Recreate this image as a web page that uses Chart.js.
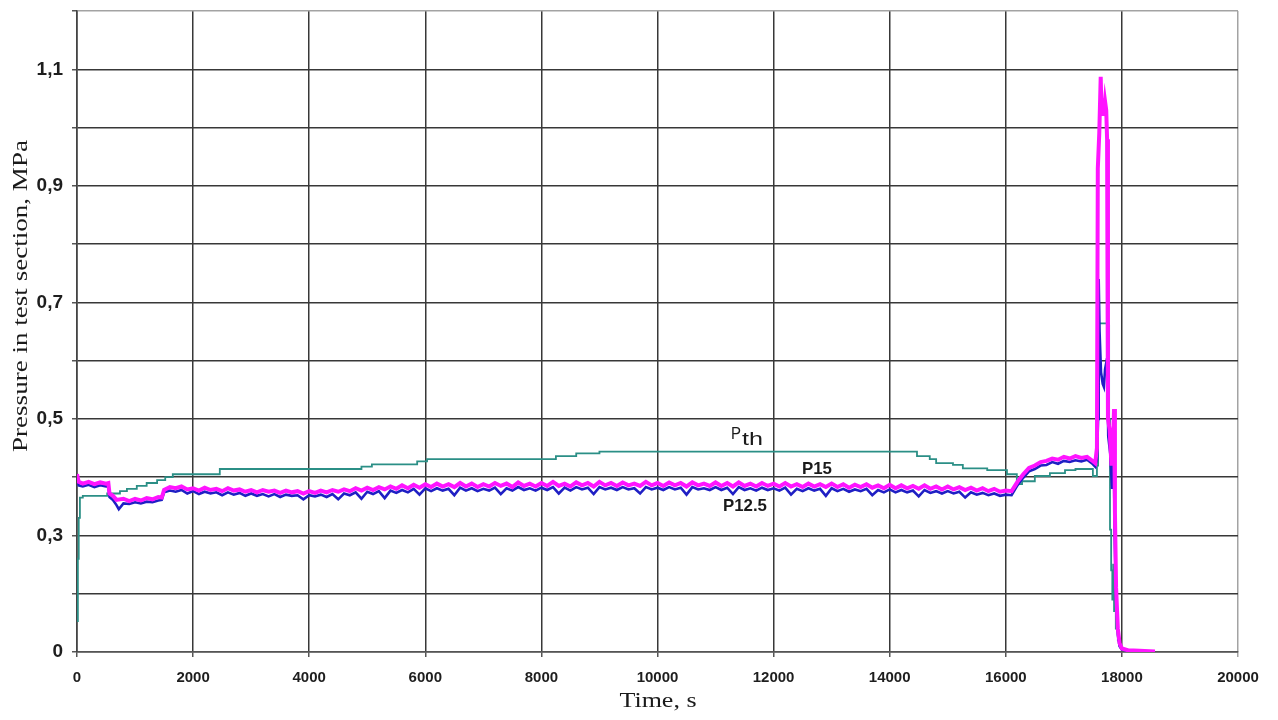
<!DOCTYPE html>
<html>
<head>
<meta charset="utf-8">
<title>Pressure in test section</title>
<script src="https://cdn.jsdelivr.net/npm/chart.js@4/dist/chart.umd.min.js"></script>
<style>
  html, body { margin: 0; padding: 0; background: #fff; overflow: hidden; }
  canvas { display: block; }
</style>
</head>
<body>
<canvas id="pressureChart" width="1278" height="720"></canvas>
<script>
// --- series data (time in s, pressure in MPa on the axis scale) ---

// x axis ticks
const timeTicks = [0, 2000, 4000, 6000, 8000, 10000, 12000, 14000, 16000, 18000, 20000];
// y gridlines run 0.1 .. 1.2, only every other one carries a label
const pressureGrid = [0.1, 0.2, 0.3, 0.4, 0.5, 0.6, 0.7, 0.8, 0.9, 1.0, 1.1, 1.2];
const pressureTickLabels = ['0', '', '0,3', '', '0,5', '', '0,7', '', '0,9', '', '1,1', ''];

// Pth - stepped trace (each value holds until the next time)
const pthTime = [0, 15, 30, 50, 100, 520, 740, 860, 1030, 1200,
  1380, 1520, 1650, 2460, 4900, 5080, 5860, 6030, 8250, 8600,
  9000, 14470, 14690, 14800, 15090, 15260, 15680, 16020, 16190, 16280,
  16500, 16760, 17020, 17200, 17500, 17570, 17590, 17780, 17795, 17815,
  17835, 17850, 17865, 17880, 17895, 17930, 17970, 18000, 18100, 18300];
const pthValue = [0.153, 0.26, 0.33, 0.365, 0.368, 0.372, 0.376, 0.380, 0.385, 0.390,
  0.395, 0.400, 0.405, 0.414, 0.418, 0.422, 0.427, 0.431, 0.436, 0.441,
  0.444, 0.436, 0.431, 0.424, 0.421, 0.415, 0.412, 0.405, 0.388, 0.393,
  0.402, 0.407, 0.412, 0.414, 0.402, 0.420, 0.664, 0.500, 0.310, 0.240,
  0.190, 0.250, 0.170, 0.220, 0.140, 0.120, 0.108, 0.104, 0.102, 0.101];

// P15 - start-up segment
const p15HeadTime = [0, 30, 100, 200, 300, 400, 500, 540, 560, 620,
  680, 800, 900, 1000, 1100, 1200, 1300, 1400, 1460];
const p15HeadValue = [0.405, 0.392, 0.389, 0.392, 0.388, 0.391, 0.389, 0.390, 0.372, 0.368,
  0.361, 0.363, 0.359, 0.363, 0.360, 0.364, 0.362, 0.366, 0.365];
// P15 - steady part, one reading every 100 s from 1500 s to 16000 s
const p15Body = [0.378, 0.383, 0.381, 0.384, 0.379, 0.381,
  0.377, 0.382, 0.378, 0.380, 0.376, 0.381, 0.377, 0.379, 0.375, 0.378,
  0.374, 0.378, 0.375, 0.377, 0.373, 0.377, 0.374, 0.376, 0.372, 0.376,
  0.373, 0.377, 0.374, 0.378, 0.375, 0.379, 0.376, 0.381, 0.377, 0.382,
  0.378, 0.383, 0.379, 0.384, 0.380, 0.386, 0.381, 0.387, 0.382, 0.388,
  0.383, 0.389, 0.384, 0.388, 0.383, 0.390, 0.384, 0.389, 0.383, 0.388,
  0.384, 0.390, 0.385, 0.389, 0.383, 0.391, 0.385, 0.389, 0.384, 0.390,
  0.385, 0.392, 0.385, 0.389, 0.384, 0.391, 0.386, 0.390, 0.384, 0.392,
  0.386, 0.390, 0.385, 0.391, 0.386, 0.389, 0.385, 0.392, 0.386, 0.390,
  0.385, 0.391, 0.386, 0.390, 0.384, 0.391, 0.386, 0.389, 0.385, 0.391,
  0.385, 0.390, 0.384, 0.391, 0.385, 0.389, 0.384, 0.390, 0.385, 0.389,
  0.384, 0.390, 0.384, 0.388, 0.383, 0.389, 0.384, 0.388, 0.383, 0.389,
  0.383, 0.388, 0.382, 0.387, 0.383, 0.388, 0.382, 0.386, 0.381, 0.387,
  0.381, 0.386, 0.381, 0.385, 0.380, 0.386, 0.380, 0.384, 0.379, 0.384,
  0.379, 0.383, 0.378, 0.382, 0.377, 0.381, 0.376, 0.380, 0.375, 0.377];
// P15 - heating, pressure peak and blow-down
const p15TailTime = [16100, 16200, 16300, 16400, 16500, 16600, 16700, 16800, 16900, 17000,
  17100, 17200, 17300, 17400, 17480, 17540, 17570, 17585, 17610, 17635,
  17650, 17670, 17690, 17710, 17730, 17745, 17760, 17790, 17820, 17850,
  17865, 17880, 17900, 17930, 17960, 18000, 18100, 18300, 18570];
const p15TailValue = [0.376, 0.392, 0.405, 0.416, 0.420, 0.426, 0.428, 0.432, 0.430, 0.435,
  0.432, 0.436, 0.433, 0.435, 0.429, 0.424, 0.450, 0.930, 0.990, 1.087,
  1.020, 1.050, 1.020, 1.045, 1.030, 0.980, 0.500, 0.480, 0.420, 0.470,
  0.517, 0.340, 0.210, 0.140, 0.115, 0.106, 0.103, 0.102, 0.101];

// P12.5
const p125HeadTime = [0, 30, 100, 200, 300, 400, 500, 540, 560, 620,
  680, 720, 800, 900, 1000, 1100, 1200, 1300, 1400, 1460];
const p125HeadValue = [0.398, 0.386, 0.384, 0.387, 0.383, 0.386, 0.384, 0.385, 0.366, 0.361,
  0.352, 0.345, 0.355, 0.354, 0.357, 0.355, 0.358, 0.357, 0.360, 0.361];
const p125Body = [0.374, 0.377, 0.375, 0.378, 0.372, 0.376,
  0.371, 0.375, 0.372, 0.374, 0.369, 0.374, 0.370, 0.373, 0.368, 0.372,
  0.368, 0.371, 0.367, 0.371, 0.366, 0.370, 0.368, 0.369, 0.362, 0.369,
  0.367, 0.370, 0.366, 0.371, 0.362, 0.372, 0.369, 0.374, 0.363, 0.375,
  0.371, 0.376, 0.364, 0.377, 0.373, 0.378, 0.374, 0.380, 0.370, 0.381,
  0.376, 0.381, 0.377, 0.380, 0.369, 0.382, 0.377, 0.381, 0.376, 0.380,
  0.377, 0.382, 0.371, 0.381, 0.377, 0.383, 0.378, 0.381, 0.377, 0.382,
  0.378, 0.383, 0.372, 0.382, 0.377, 0.383, 0.379, 0.382, 0.371, 0.383,
  0.379, 0.382, 0.378, 0.383, 0.379, 0.381, 0.372, 0.383, 0.379, 0.382,
  0.378, 0.383, 0.379, 0.382, 0.370, 0.383, 0.379, 0.381, 0.378, 0.383,
  0.378, 0.382, 0.371, 0.383, 0.378, 0.381, 0.377, 0.382, 0.378, 0.381,
  0.377, 0.382, 0.370, 0.380, 0.376, 0.381, 0.377, 0.380, 0.368, 0.381,
  0.376, 0.380, 0.375, 0.379, 0.376, 0.380, 0.369, 0.378, 0.374, 0.379,
  0.374, 0.378, 0.374, 0.377, 0.367, 0.378, 0.373, 0.376, 0.372, 0.376,
  0.372, 0.375, 0.365, 0.374, 0.370, 0.373, 0.369, 0.372, 0.368, 0.370];
const p125TailTime = [16100, 16200, 16300, 16400, 16500, 16600, 16700, 16800, 16900, 17000,
  17100, 17200, 17300, 17400, 17480, 17540, 17570, 17590, 17600,
  17615, 17640, 17670, 17690, 17710, 17730, 17750, 17765, 17800, 17830,
  17860, 17875, 17900, 17930, 17960, 18000, 18100, 18300, 18570];
const p125TailValue = [0.369, 0.386, 0.399, 0.410, 0.414, 0.420, 0.421, 0.426, 0.423, 0.428,
  0.426, 0.429, 0.427, 0.430, 0.424, 0.418, 0.430, 0.500, 0.740,
  0.650, 0.580, 0.560, 0.555, 0.585, 0.596, 0.590, 0.470, 0.440, 0.380,
  0.450, 0.300, 0.190, 0.130, 0.110, 0.104, 0.102, 0.101, 0.100];

const BODY_START = 1500;
const BODY_STEP = 100;

// in-plot series names, anchored in data coordinates
const seriesLabels = [
  { text: 'P', t: 11266, v: 0.4652, font: '16px "Liberation Sans", Arial', width: 10 },
  { text: 'th', t: 11456, v: 0.4549, font: '19px "Liberation Sans", Arial', width: 21 },
  { text: 'P15', t: 12489, v: 0.4051, font: 'bold 17px "Liberation Sans", Arial', width: 30 },
  { text: 'P12.5', t: 11128, v: 0.3417, font: 'bold 17px "Liberation Sans", Arial', width: 44 }
];

// --- helpers ---
function toPoints(times, values) {
  return times.map((t, i) => ({ x: t, y: values[i] }));
}

function bodyPoints(values) {
  return values.map((v, i) => ({ x: BODY_START + i * BODY_STEP, y: v }));
}

// text squeezed/stretched to a given run length
function drawFitted(ctx, text, x, y, font, width, align) {
  ctx.save();
  ctx.font = font;
  const w = ctx.measureText(text).width;
  ctx.translate(x, y);
  ctx.scale(width / w, 1);
  ctx.fillText(text, align === 'center' ? -w / 2 : 0, 0);
  ctx.restore();
}

const GRID_DARK = '#383838';
const GRID_EDGE = '#a3a3a3';

const labelsPlugin = {
  id: 'pressureLabels',
  afterDraw(chart) {
    const { ctx, scales: { x, y } } = chart;
    ctx.save();
    ctx.fillStyle = '#1a1a1a';
    ctx.textBaseline = 'alphabetic';

    seriesLabels.forEach(l => {
      drawFitted(ctx, l.text, x.getPixelForValue(l.t), y.getPixelForValue(l.v), l.font, l.width, 'left');
    });

    // axis titles
    const serif = '22px "Liberation Serif", "Times New Roman", serif';
    drawFitted(ctx, 'Time, s', 658, 707, serif, 77, 'center');

    ctx.save();
    ctx.translate(27, 296);
    ctx.rotate(-Math.PI / 2);
    drawFitted(ctx, 'Pressure in test section, MPa', 0, 0, serif, 312, 'center');
    ctx.restore();

    ctx.restore();
  }
};

const ctx = document.getElementById('pressureChart').getContext('2d');

const pressureChart = new Chart(ctx, {
  type: 'line',
  data: {
    datasets: [
      {
        label: 'P15',
        data: [...toPoints(p15HeadTime, p15HeadValue), ...bodyPoints(p15Body), ...toPoints(p15TailTime, p15TailValue)],
        borderColor: '#ff14ff',
        borderWidth: 4,
        order: 1
      },
      {
        label: 'P12.5',
        data: [...toPoints(p125HeadTime, p125HeadValue), ...bodyPoints(p125Body), ...toPoints(p125TailTime, p125TailValue)],
        borderColor: '#1f1fc4',
        borderWidth: 2.6,
        order: 2
      },
      {
        label: 'Pth',
        data: toPoints(pthTime, pthValue),
        borderColor: '#2b8f86',
        borderWidth: 1.8,
        stepped: 'before',
        order: 3
      }
    ]
  },
  options: {
    responsive: false,
    animation: false,
    events: [],
    elements: {
      point: { radius: 0 },
      line: { tension: 0, borderJoinStyle: 'miter', borderCapStyle: 'butt' }
    },
    layout: { padding: { top: 11, right: 40, left: 0, bottom: 0 } },
    plugins: {
      legend: { display: false },
      tooltip: { enabled: false },
      title: { display: false }
    },
    scales: {
      x: {
        type: 'linear',
        min: 0,
        max: 20000,
        afterBuildTicks: scale => { scale.ticks = timeTicks.map(v => ({ value: v })); },
        afterFit: scale => {
          scale.height = 68;
          scale.paddingLeft = 0;
          scale.paddingRight = 0;
        },
        ticks: {
          color: '#1e1e1e',
          padding: 12,
          maxRotation: 0,
          autoSkip: false,
          font: { family: '"Liberation Sans", Arial, sans-serif', size: 15, weight: 'bold' },
          callback: v => String(v)
        },
        grid: {
          color: c => (c.tick && c.tick.value === 20000 ? GRID_EDGE : GRID_DARK),
          tickColor: c => (c.tick && c.tick.value === 20000 ? GRID_EDGE : '#555'),
          lineWidth: 1.5,
          tickLength: 5
        },
        border: { color: '#555', width: 1.6 }
      },
      y: {
        type: 'linear',
        min: 0.1,
        max: 1.2,
        afterBuildTicks: scale => { scale.ticks = pressureGrid.map(v => ({ value: v })); },
        afterFit: scale => {
          scale.width = 77;
          scale.paddingTop = 0;
          scale.paddingBottom = 0;
        },
        ticks: {
          color: '#1e1e1e',
          padding: 9,
          autoSkip: false,
          font: { family: '"Liberation Sans", Arial, sans-serif', size: 19, weight: 'bold' },
          callback: (v, i) => pressureTickLabels[i]
        },
        grid: {
          color: c => (c.tick && Math.abs(c.tick.value - 1.2) < 1e-6 ? GRID_EDGE : GRID_DARK),
          tickColor: '#555',
          lineWidth: 1.5,
          tickLength: 5
        },
        border: { color: '#444', width: 1.6 }
      }
    }
  },
  plugins: [labelsPlugin]
});
</script>
</body>
</html>
